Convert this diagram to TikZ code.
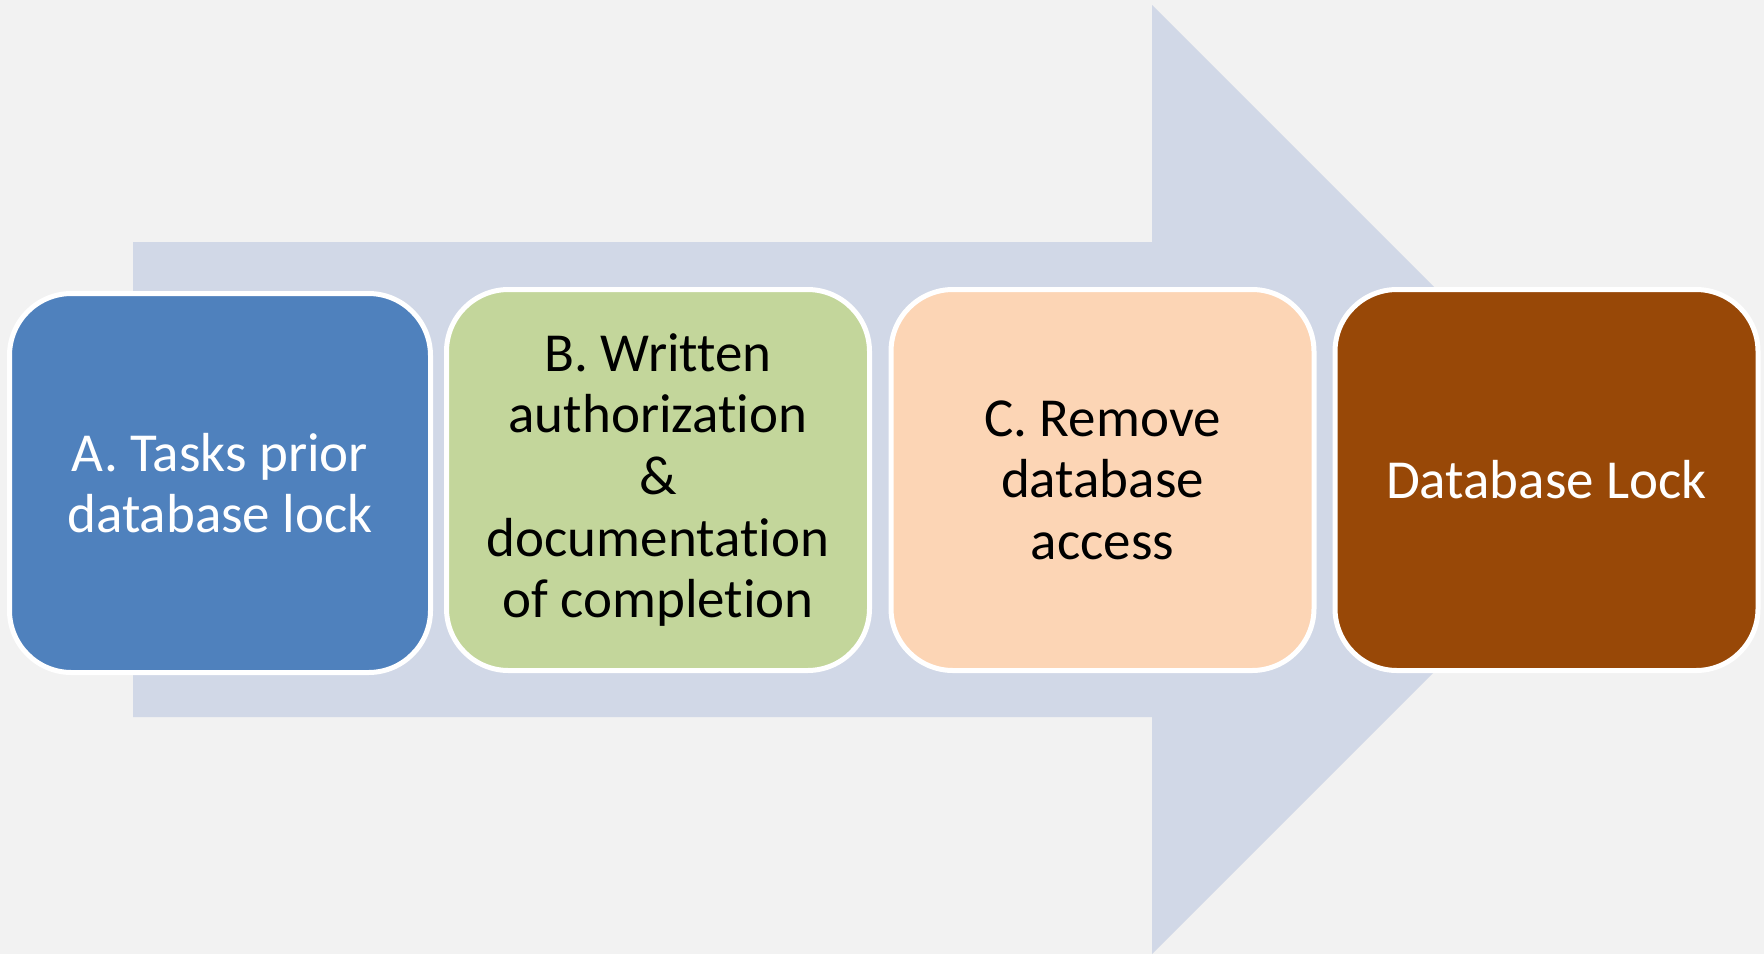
\documentclass[tikz,border=0pt]{standalone}
\usepackage{fontspec}
\setmainfont{Carlito}[RawFeature={-liga;-dlig;-clig}]
\definecolor{bgcol}{HTML}{F2F2F2}
\definecolor{arrowcol}{HTML}{D1D8E7}
\definecolor{stepA}{HTML}{4F81BD}
\definecolor{stepB}{HTML}{C3D69B}
\definecolor{stepC}{HTML}{FCD5B5}
\definecolor{stepD}{HTML}{984807}
\tikzset{
  stepbox/.style={draw=white, line width=5pt, rounded corners=62pt,
    minimum width=423pt, minimum height=381pt, inner sep=0pt,
    align=center, font=\fontsize{55}{61.6}\selectfont},
}
\begin{document}
\begin{tikzpicture}[x=1pt,y=-1pt]
  % canvas
  \fill[bgcol] (0,0) rectangle (1764,954);
  \useasboundingbox (0,0) rectangle (1764,954);
  % large background arrow
  \fill[arrowcol] (133,242) -- (1152,242) -- (1152,5) -- (1626.5,479.5)
    -- (1152,954) -- (1152,717) -- (133,717) -- cycle;
  % process steps
  \node[stepbox, fill=stepA, text=white, minimum width=421pt, minimum height=379pt]
    (a) at (220,483) {A. Tasks prior\\database lock};
  \node[stepbox, fill=stepB, text=black] (b) at (658,480)
    {B. Written\\authorization\\\&\\documentation\\of completion};
  \node[stepbox, fill=stepC, text=black] (c) at (1102.5,480)
    {C. Remove\\database\\access};
  \node[stepbox, fill=stepD, text=white] (d) at (1546.5,480)
    {Database Lock};
\end{tikzpicture}
\end{document}
